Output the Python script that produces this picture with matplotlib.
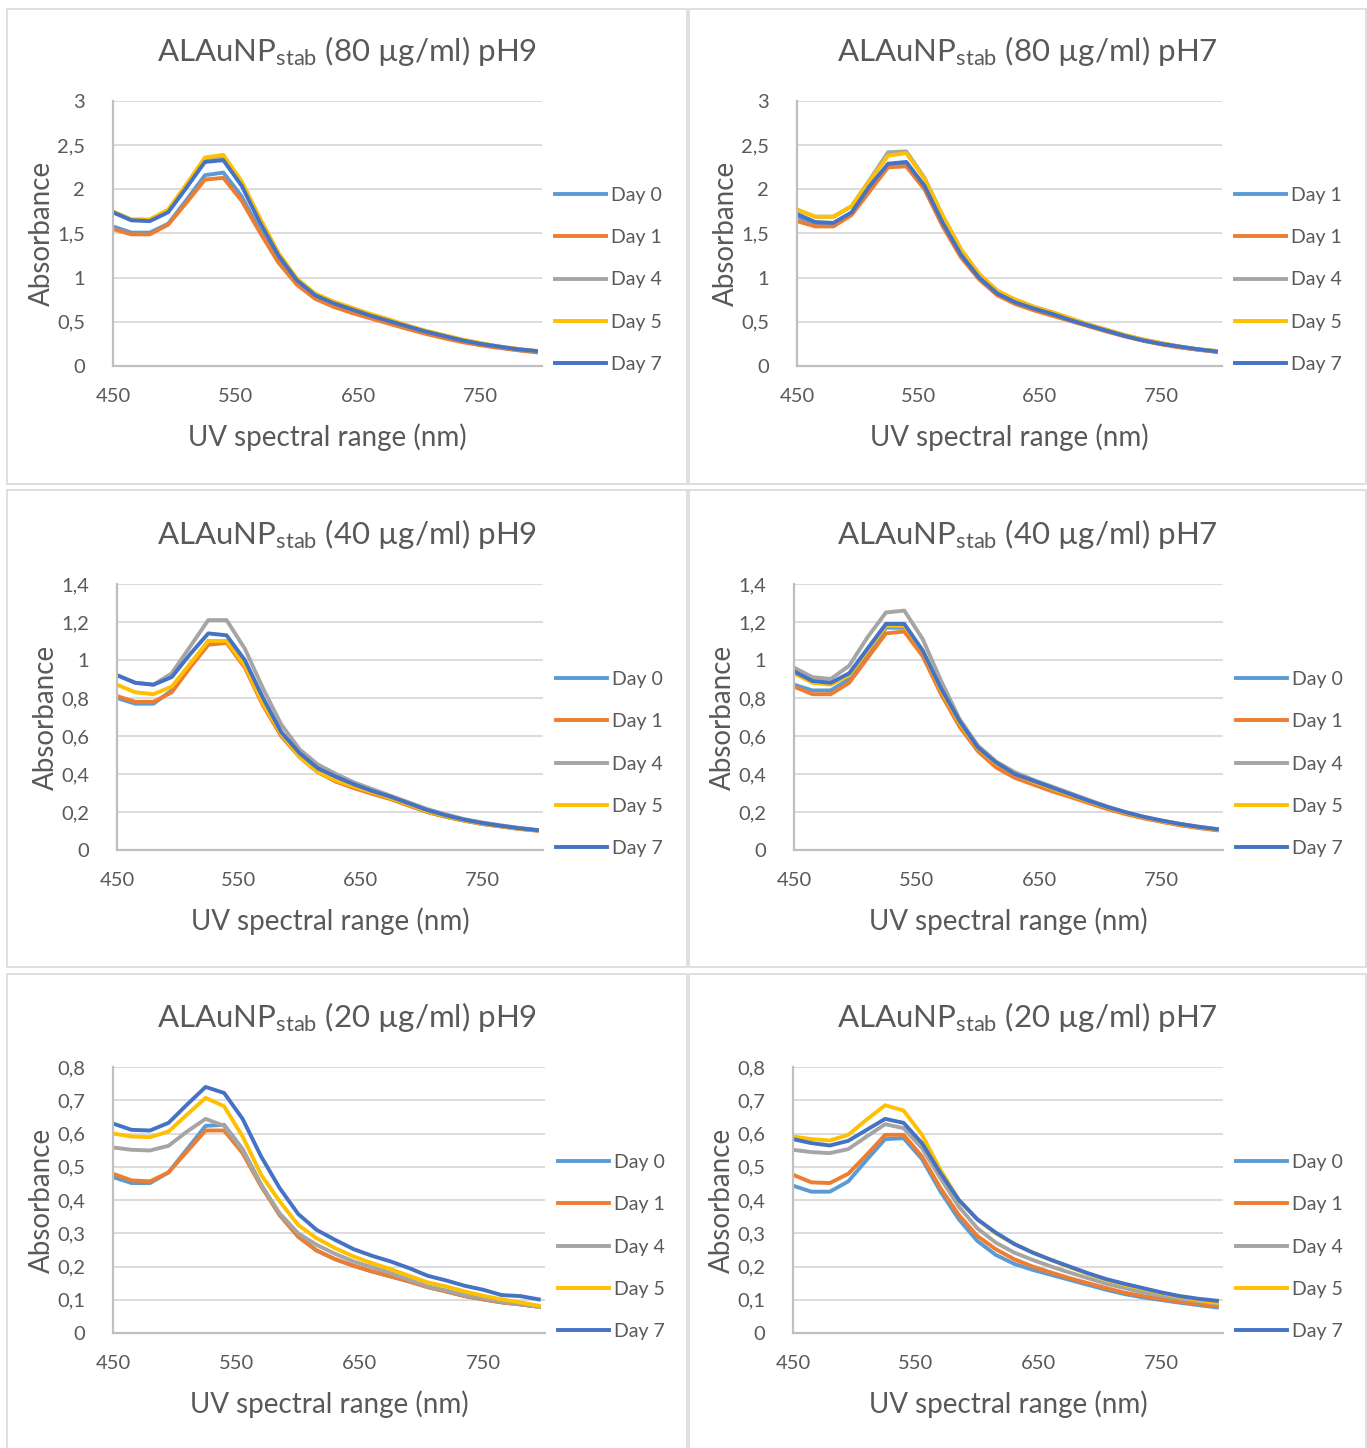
import matplotlib
matplotlib.use("Agg")
import matplotlib.pyplot as plt
from matplotlib.patches import Rectangle
from matplotlib.ticker import FuncFormatter

plt.rcParams['font.family'] = ['Lato', 'DejaVu Sans']
plt.rcParams['mathtext.fontset'] = 'custom'
plt.rcParams['mathtext.rm'] = 'Lato'
plt.rcParams['mathtext.it'] = 'Lato:italic'

W, H = 1367, 1448
TXT = '#595959'
COLORS = ['#5B9BD5', '#ED7D31', '#A5A5A5', '#FFC000', '#4472C4']

wavelength = list(range(450, 800, 15))

# ---- 80 ug/ml pH9 ----
a_day0 = [1.58, 1.51, 1.51, 1.61, 1.88, 2.16, 2.19, 1.92, 1.53, 1.18, 0.93, 0.77, 0.68, 0.61, 0.55, 0.49, 0.43, 0.37, 0.32, 0.28, 0.24, 0.21, 0.18, 0.16]
a_day1 = [1.55, 1.49, 1.49, 1.60, 1.85, 2.11, 2.13, 1.87, 1.51, 1.17, 0.92, 0.76, 0.67, 0.60, 0.54, 0.48, 0.42, 0.365, 0.315, 0.27, 0.235, 0.205, 0.18, 0.155]
a_day4 = [1.74, 1.65, 1.65, 1.76, 2.04, 2.34, 2.36, 2.07, 1.65, 1.27, 0.98, 0.81, 0.72, 0.65, 0.58, 0.52, 0.455, 0.395, 0.345, 0.295, 0.255, 0.22, 0.19, 0.17]
a_day5 = [1.75, 1.66, 1.66, 1.77, 2.06, 2.36, 2.39, 2.09, 1.67, 1.28, 0.99, 0.82, 0.73, 0.66, 0.59, 0.53, 0.46, 0.40, 0.35, 0.30, 0.26, 0.22, 0.195, 0.17]
a_day7 = [1.74, 1.65, 1.64, 1.74, 2.02, 2.31, 2.33, 2.04, 1.62, 1.25, 0.97, 0.80, 0.71, 0.64, 0.57, 0.51, 0.45, 0.39, 0.34, 0.29, 0.25, 0.22, 0.19, 0.17]

# ---- 80 ug/ml pH7 ----
b_day1a = [1.69, 1.61, 1.60, 1.72, 2.01, 2.27, 2.29, 2.02, 1.60, 1.25, 0.99, 0.81, 0.71, 0.64, 0.58, 0.515, 0.455, 0.395, 0.34, 0.29, 0.25, 0.215, 0.185, 0.165]
b_day1 = [1.64, 1.58, 1.58, 1.71, 1.98, 2.25, 2.26, 2.00, 1.58, 1.23, 0.98, 0.80, 0.70, 0.63, 0.57, 0.51, 0.45, 0.39, 0.335, 0.285, 0.245, 0.21, 0.185, 0.16]
b_day4 = [1.77, 1.69, 1.69, 1.81, 2.11, 2.42, 2.43, 2.13, 1.70, 1.32, 1.04, 0.85, 0.75, 0.67, 0.61, 0.54, 0.47, 0.41, 0.35, 0.30, 0.26, 0.22, 0.19, 0.17]
b_day5 = [1.77, 1.69, 1.69, 1.81, 2.10, 2.38, 2.41, 2.12, 1.70, 1.32, 1.04, 0.85, 0.75, 0.67, 0.61, 0.54, 0.47, 0.41, 0.35, 0.30, 0.26, 0.22, 0.19, 0.17]
b_day7 = [1.72, 1.63, 1.62, 1.74, 2.04, 2.29, 2.31, 2.04, 1.62, 1.26, 1.00, 0.82, 0.72, 0.65, 0.59, 0.52, 0.46, 0.40, 0.34, 0.29, 0.25, 0.22, 0.19, 0.165]

# ---- 40 ug/ml pH9 ----
c_day0 = [0.80, 0.77, 0.77, 0.84, 0.97, 1.10, 1.10, 0.97, 0.77, 0.60, 0.49, 0.41, 0.36, 0.33, 0.30, 0.27, 0.235, 0.20, 0.175, 0.155, 0.137, 0.125, 0.112, 0.103]
c_day1 = [0.81, 0.78, 0.78, 0.83, 0.96, 1.08, 1.09, 0.96, 0.76, 0.60, 0.49, 0.41, 0.36, 0.325, 0.295, 0.267, 0.233, 0.20, 0.175, 0.155, 0.137, 0.124, 0.111, 0.102]
c_day4 = [0.92, 0.88, 0.87, 0.93, 1.07, 1.21, 1.21, 1.06, 0.85, 0.66, 0.53, 0.45, 0.40, 0.355, 0.32, 0.285, 0.25, 0.215, 0.188, 0.163, 0.145, 0.13, 0.117, 0.105]
c_day5 = [0.87, 0.83, 0.82, 0.86, 0.98, 1.10, 1.10, 0.97, 0.77, 0.61, 0.49, 0.41, 0.365, 0.333, 0.303, 0.273, 0.238, 0.203, 0.178, 0.157, 0.139, 0.126, 0.113, 0.104]
c_day7 = [0.92, 0.88, 0.87, 0.91, 1.03, 1.14, 1.13, 1.00, 0.80, 0.62, 0.51, 0.43, 0.385, 0.345, 0.31, 0.28, 0.245, 0.21, 0.183, 0.16, 0.142, 0.128, 0.115, 0.105]

# ---- 40 ug/ml pH7 ----
d_day0 = [0.87, 0.84, 0.84, 0.90, 1.03, 1.17, 1.17, 1.04, 0.83, 0.66, 0.53, 0.445, 0.39, 0.355, 0.32, 0.285, 0.252, 0.22, 0.193, 0.17, 0.15, 0.133, 0.118, 0.106]
d_day1 = [0.86, 0.82, 0.82, 0.88, 1.01, 1.14, 1.15, 1.02, 0.82, 0.65, 0.52, 0.434, 0.38, 0.345, 0.31, 0.28, 0.248, 0.217, 0.19, 0.167, 0.148, 0.13, 0.116, 0.104]
d_day4 = [0.96, 0.91, 0.90, 0.97, 1.12, 1.25, 1.26, 1.11, 0.89, 0.69, 0.55, 0.465, 0.41, 0.37, 0.335, 0.30, 0.265, 0.23, 0.20, 0.175, 0.155, 0.138, 0.123, 0.11]
d_day5 = [0.93, 0.88, 0.87, 0.92, 1.05, 1.18, 1.18, 1.05, 0.84, 0.67, 0.535, 0.455, 0.40, 0.36, 0.325, 0.29, 0.257, 0.225, 0.197, 0.172, 0.152, 0.135, 0.12, 0.108]
d_day7 = [0.94, 0.89, 0.88, 0.93, 1.06, 1.19, 1.19, 1.05, 0.85, 0.68, 0.54, 0.46, 0.40, 0.365, 0.33, 0.295, 0.26, 0.228, 0.20, 0.175, 0.155, 0.137, 0.122, 0.11]

# ---- 20 ug/ml pH9 ----
e_day0 = [0.469, 0.451, 0.451, 0.483, 0.553, 0.623, 0.626, 0.553, 0.446, 0.355, 0.29, 0.248, 0.222, 0.202, 0.185, 0.17, 0.155, 0.138, 0.125, 0.111, 0.101, 0.092, 0.086, 0.079]
e_day1 = [0.479, 0.459, 0.456, 0.483, 0.546, 0.609, 0.609, 0.541, 0.441, 0.355, 0.29, 0.248, 0.222, 0.202, 0.185, 0.17, 0.155, 0.138, 0.125, 0.111, 0.101, 0.092, 0.086, 0.079]
e_day4 = [0.558, 0.551, 0.549, 0.563, 0.606, 0.644, 0.623, 0.551, 0.446, 0.36, 0.30, 0.265, 0.238, 0.215, 0.198, 0.18, 0.16, 0.14, 0.128, 0.114, 0.104, 0.094, 0.087, 0.079]
e_day5 = [0.60, 0.591, 0.589, 0.606, 0.657, 0.707, 0.682, 0.591, 0.476, 0.396, 0.325, 0.285, 0.255, 0.23, 0.21, 0.192, 0.172, 0.152, 0.14, 0.125, 0.112, 0.101, 0.092, 0.082]
e_day7 = [0.63, 0.611, 0.609, 0.632, 0.687, 0.74, 0.722, 0.644, 0.531, 0.436, 0.358, 0.31, 0.28, 0.252, 0.232, 0.215, 0.195, 0.172, 0.158, 0.142, 0.13, 0.114, 0.111, 0.101]

# ---- 20 ug/ml pH7 ----
f_day0 = [0.443, 0.425, 0.425, 0.456, 0.521, 0.583, 0.586, 0.523, 0.426, 0.342, 0.277, 0.235, 0.208, 0.19, 0.175, 0.16, 0.145, 0.13, 0.117, 0.107, 0.099, 0.091, 0.084, 0.077]
f_day1 = [0.476, 0.453, 0.451, 0.479, 0.536, 0.596, 0.596, 0.531, 0.436, 0.355, 0.292, 0.252, 0.222, 0.20, 0.182, 0.165, 0.15, 0.135, 0.121, 0.111, 0.102, 0.094, 0.087, 0.081]
f_day4 = [0.551, 0.544, 0.541, 0.553, 0.591, 0.628, 0.616, 0.556, 0.466, 0.38, 0.315, 0.272, 0.242, 0.22, 0.20, 0.182, 0.165, 0.148, 0.135, 0.122, 0.112, 0.103, 0.096, 0.089]
f_day5 = [0.591, 0.583, 0.579, 0.596, 0.642, 0.685, 0.669, 0.596, 0.491, 0.40, 0.342, 0.30, 0.268, 0.242, 0.22, 0.198, 0.178, 0.16, 0.145, 0.132, 0.12, 0.109, 0.099, 0.091]
f_day7 = [0.583, 0.571, 0.564, 0.578, 0.611, 0.644, 0.632, 0.571, 0.481, 0.40, 0.342, 0.302, 0.268, 0.242, 0.22, 0.20, 0.18, 0.162, 0.148, 0.135, 0.122, 0.111, 0.103, 0.097]

labels_std = ['Day 0', 'Day 1', 'Day 4', 'Day 5', 'Day 7']
labels_b = ['Day 1', 'Day 1', 'Day 4', 'Day 5', 'Day 7']

panels = [
    dict(title='ALAuNP$_{\\mathrm{stab}}$ (80 µg/ml) pH9', series=[a_day0, a_day1, a_day4, a_day5, a_day7],
         labels=labels_std, ymax=3, ystep=0.5, box=(7, 9, 687, 484), plot=(113, 101, 542, 366), tx=347),
    dict(title='ALAuNP$_{\\mathrm{stab}}$ (80 µg/ml) pH7', series=[b_day1a, b_day1, b_day4, b_day5, b_day7],
         labels=labels_b, ymax=3, ystep=0.5, box=(689, 9, 1366, 484), plot=(797, 101, 1222, 366), tx=1027),
    dict(title='ALAuNP$_{\\mathrm{stab}}$ (40 µg/ml) pH9', series=[c_day0, c_day1, c_day4, c_day5, c_day7],
         labels=labels_std, ymax=1.4, ystep=0.2, box=(7, 490, 687, 967), plot=(117, 584, 543, 850), tx=347),
    dict(title='ALAuNP$_{\\mathrm{stab}}$ (40 µg/ml) pH7', series=[d_day0, d_day1, d_day4, d_day5, d_day7],
         labels=labels_std, ymax=1.4, ystep=0.2, box=(689, 490, 1366, 967), plot=(794, 584, 1223, 850), tx=1027),
    dict(title='ALAuNP$_{\\mathrm{stab}}$ (20 µg/ml) pH9', series=[e_day0, e_day1, e_day4, e_day5, e_day7],
         labels=labels_std, ymax=0.8, ystep=0.1, box=(7, 974, 687, 1452), plot=(113, 1067, 545, 1333), tx=347),
    dict(title='ALAuNP$_{\\mathrm{stab}}$ (20 µg/ml) pH7', series=[f_day0, f_day1, f_day4, f_day5, f_day7],
         labels=labels_std, ymax=0.8, ystep=0.1, box=(689, 974, 1366, 1452), plot=(793, 1067, 1223, 1333), tx=1027),
]

fig = plt.figure(figsize=(W / 100, H / 100), dpi=100)


def fx(px):
    return px / W


def fy(py):
    return 1 - py / H


comma = FuncFormatter(lambda v, _: f'{v:.10g}'.replace('.', ','))

for p in panels:
    bx0, by0, bx1, by1 = p['box']
    fig.add_artist(Rectangle((fx(bx0), fy(by1)), fx(bx1 - bx0), (by1 - by0) / H,
                             transform=fig.transFigure, fill=False,
                             edgecolor='#D9D9D9', linewidth=1.2))
    x0, y0, x1, y1 = p['plot']
    ax = fig.add_axes([fx(x0), fy(y1), fx(x1 - x0), (y1 - y0) / H])
    handles = []
    for vals, lab, col in zip(p['series'], p['labels'], COLORS):
        ln, = ax.plot(wavelength, vals, color=col, lw=2.8, label=lab, solid_joinstyle='round')
        handles.append(ln)
    ax.set_xlim(450, 800)
    ax.set_ylim(0, p['ymax'])
    ax.set_xticks([450, 550, 650, 750])
    n = int(round(p['ymax'] / p['ystep']))
    ax.set_yticks([round(i * p['ystep'], 3) for i in range(n + 1)])
    ax.yaxis.set_major_formatter(comma)
    ax.grid(axis='y', color='#D9D9D9', lw=1.3)
    ax.set_axisbelow(True)
    for s in ['top', 'right']:
        ax.spines[s].set_visible(False)
    for s in ['left', 'bottom']:
        ax.spines[s].set_color('#BFBFBF')
        ax.spines[s].set_linewidth(1.6)
    ax.tick_params(length=0, labelsize=14.5, labelcolor=TXT)
    ax.tick_params(axis='x', pad=16)
    ax.tick_params(axis='y', pad=20)
    ax.set_xlabel('UV spectral range (nm)', fontsize=20, color=TXT, labelpad=13)
    ax.set_ylabel('Absorbance', fontsize=20, color=TXT, labelpad=2)
    fig.text(fx(p['tx']), fy(y0 - 50), p['title'], fontsize=22.5, color=TXT, ha='center', va='center')
    lx = x1 + 13
    ax.legend(handles=handles, loc='center left', bbox_to_anchor=(fx(lx), fy(y1 - 86)),
              bbox_transform=fig.transFigure, frameon=False, fontsize=14, labelcolor=TXT,
              handlelength=2.6, handletextpad=0.3, labelspacing=1.3, borderpad=0, borderaxespad=0)

fig.savefig('out.png', dpi=100, facecolor='white')
